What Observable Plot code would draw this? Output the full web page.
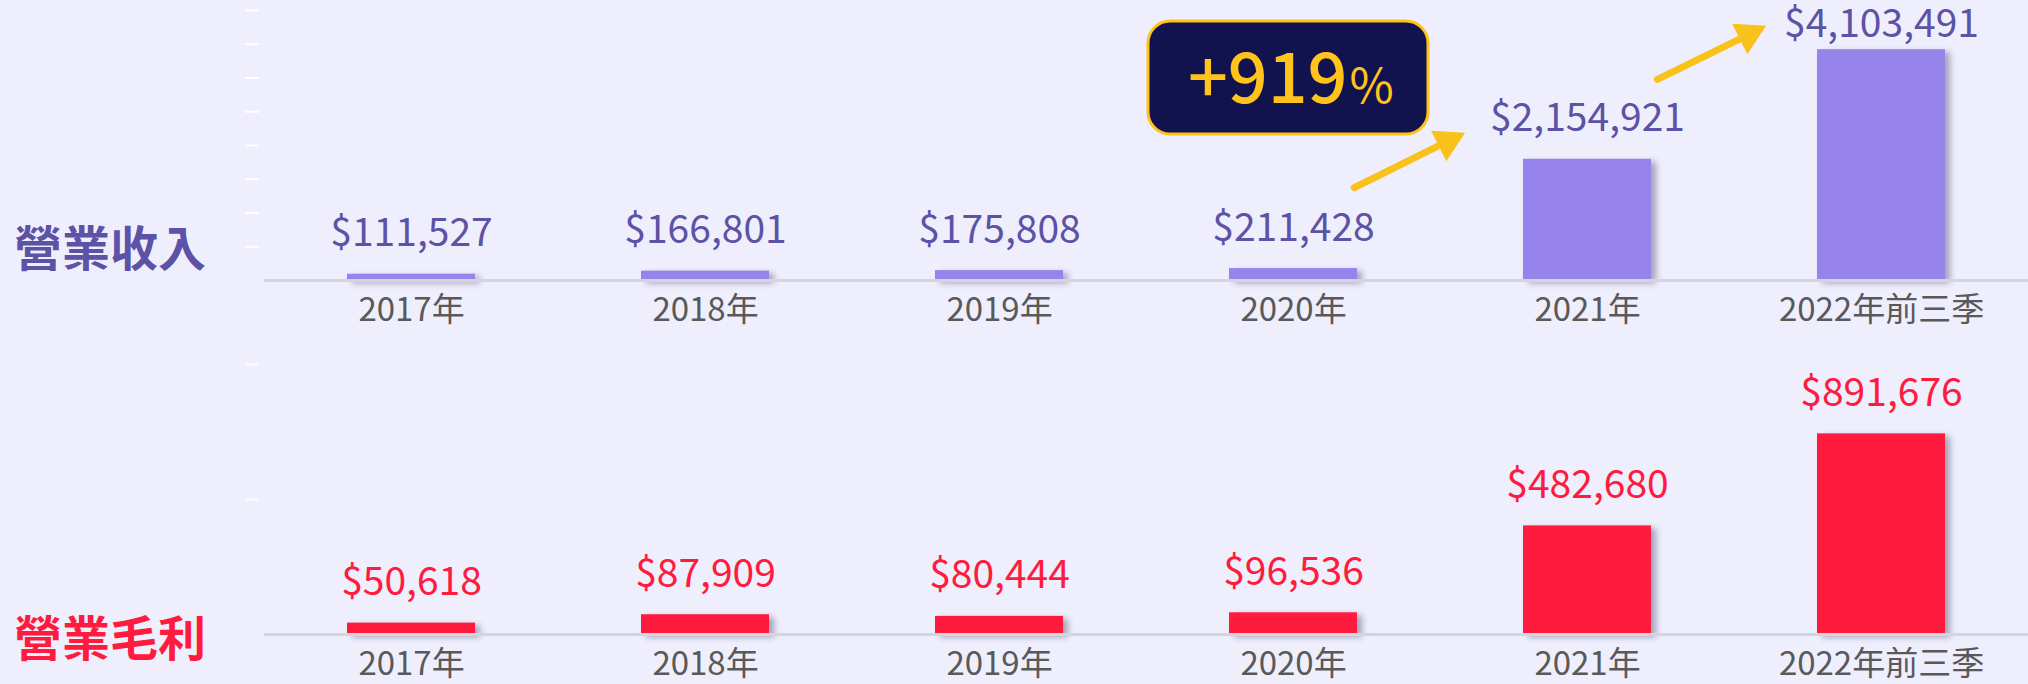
<!DOCTYPE html>
<html>
<head>
<meta charset="utf-8">
<script src="https://cdn.jsdelivr.net/npm/d3@7"></script>
<script src="https://cdn.jsdelivr.net/npm/@observablehq/plot@0.6"></script>
<style>
  html, body { margin: 0; padding: 0; background: #efeefd; }
  #wrap { position: relative; width: 2028px; height: 684px; overflow: hidden; background: #efeefd;
          font-family: "Noto Sans CJK TC", "Noto Sans", sans-serif; }
  #wrap svg { display: block; background: transparent; overflow: visible; }
  .title { position: absolute; left: 14px; font-size: 48px; font-weight: 700; line-height: 1; white-space: nowrap; }
  #wrap g[aria-label="bar"].shadow rect { filter: drop-shadow(5px 3px 3px rgba(70,70,100,0.45)); }
</style>
</head>
<body>
<div id="wrap">
  <div id="topPanel"></div>
  <div id="bottomPanel"></div>
  <div class="title" id="t1" style="top:221px;color:#5c52a6;">營業收入</div>
  <div class="title" id="t2" style="top:611px;color:#ff1b3e;">營業毛利</div>
</div>
<script>
// ---- data ----
const categories = ["2017年", "2018年", "2019年", "2020年", "2021年", "2022年前三季"];
const revenue = [111527, 166801, 175808, 211428, 2154921, 4103491];
const grossProfit = [50618, 87909, 80444, 96536, 482680, 891676];
const revenueTicks = [600000, 1200000, 1800000, 2400000, 3000000, 3600000, 4200000, 4800000];
const profitTicks = [600000, 1200000];
const growthLabel = "+919";
const growthUnit = "%";
// annotation arrows (in revenue units)
const arrowsFrom = ["2020年", "2021年"];
const arrowsTo = ["2021年", "2022年前三季"];
const arrowsY1 = [1110000, 2962000];
const arrowsY2 = [3716000, 5534000];
const arrowHeadY = [2471000, 4373000];

const fmt = v => "$" + d3.format(",")(v);
const revData = categories.map((c, i) => ({cat: c, value: revenue[i]}));
const gpData = categories.map((c, i) => ({cat: c, value: grossProfit[i]}));
const arrowData = arrowsFrom.map((f, i) => ({from: f, to: arrowsTo[i], y1: arrowsY1[i], y2: arrowsY2[i], hy: arrowHeadY[i]}));

const FONT = '"Noto Sans CJK TC", "Noto Sans", sans-serif';
const xScale = {domain: categories, paddingInner: 0.565, paddingOuter: 0.28};
const GOLD = "#f8c21b";

function panel({data, height, marginTop, marginBottom, yMax, ticks, fill, textColor, labelCap, extra = []}) {
  return Plot.plot({
    width: 2028,
    height,
    marginLeft: 264,
    marginRight: 0,
    marginTop,
    marginBottom,
    style: {background: "transparent", fontFamily: FONT, overflow: "visible"},
    x: {...xScale, label: null},
    y: {domain: [0, yMax], label: null},
    marks: [
      Plot.axisY({ticks, tickSize: 14, dx: -5, stroke: "#ffffff", strokeWidth: 2, strokeOpacity: 0.9, tickFormat: () => "", label: null}),
      Plot.axisX({tickSize: 0, tickPadding: 17, fontSize: 33, fill: "#595959", label: null, lineAnchor: "top"}),
      Plot.barY(data, {x: "cat", y: "value", fill, className: "shadow"}),
      Plot.ruleY([0], {stroke: "#d4d4dc", strokeWidth: 3}),
      Plot.text(data, {
        x: "cat",
        y: d => Math.min(d.value, labelCap),
        text: d => fmt(d.value),
        dy: -28,
        lineAnchor: "bottom",
        fill: textColor,
        fontSize: 39,
        fontFamily: FONT
      }),
      ...extra
    ]
  });
}

const topMax = 4800000;
const startInsets = [68, 78];
const endInsets = [157, 148];
const headDx = [-140, -133];
const topChart = panel({
  data: revData, height: 340, marginTop: 10, marginBottom: 60, yMax: topMax, ticks: revenueTicks,
  fill: "#9683ec", textColor: "#5c52a6", labelCap: topMax * 0.8,
  extra: [
    ...arrowData.map((a, i) => Plot.arrow([a], {
      x1: "from", x2: "to", y1: "y1", y2: "y2",
      stroke: GOLD, strokeWidth: 7, headLength: 0,
      insetStart: startInsets[i], insetEnd: endInsets[i]
    })),
    ...arrowData.map((a, i) => Plot.dot([a], {
      x: "to", y: "hy", dx: headDx[i], symbol: "triangle", r: 12, rotate: 63.5,
      fill: GOLD, stroke: GOLD, strokeWidth: 1
    })),
    Plot.barY(["2020年"], {
      x: d => d, y1: 2596000, y2: 4604000,
      insetLeft: -81, insetRight: -71, rx: 22,
      fill: "#12124e", stroke: "#ffc21a", strokeWidth: 3
    }),
    Plot.text(["2020年"], {
      x: d => d, y: 3147000, text: () => growthLabel, textAnchor: "end", lineAnchor: "bottom",
      dx: 54, fill: "#ffc31c", fontSize: 70, fontWeight: 500, fontFamily: FONT
    }),
    Plot.text(["2020年"], {
      x: d => d, y: 3147000, text: () => growthUnit, textAnchor: "start", lineAnchor: "bottom",
      dx: 56, fill: "#ffc31c", fontSize: 48, fontFamily: FONT
    })
  ]
});
document.getElementById("topPanel").appendChild(topChart);

const bottomChart = panel({
  data: gpData, height: 344, marginTop: 24, marginBottom: 50, yMax: 1200000, ticks: profitTicks,
  fill: "#ff1b3e", textColor: "#ff1b3e", labelCap: Infinity
});
document.getElementById("bottomPanel").appendChild(bottomChart);
</script>
</body>
</html>
